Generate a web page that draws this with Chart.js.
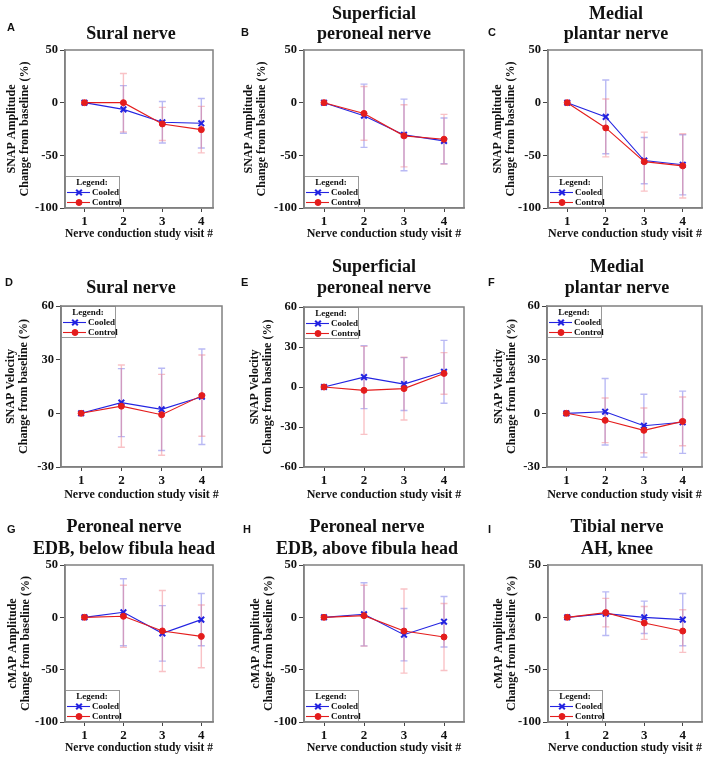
<!DOCTYPE html>
<html>
<head>
<meta charset="utf-8">
<title>Change from baseline by nerve</title>
<script src="https://cdn.jsdelivr.net/npm/chart.js@4.4.1/dist/chart.umd.min.js"></script>
<style>
  body { margin: 0; background: #fff; }
  #figure { position: relative; width: 708px; height: 767px; overflow: hidden; background: #fff; }
  #figure canvas { position: absolute; }
</style>
</head>
<body>
<div id="figure"></div>
<script>
// ---- data ----
const visits = [1, 2, 3, 4];
const seriesNames = ['Cooled', 'Control'];
const xTitle = 'Nerve conduction study visit #';

const panelLetters = ['A', 'B', 'C', 'D', 'E', 'F', 'G', 'H', 'I'];
const panelTitles = [
    ['Sural nerve'], ['Superficial', 'peroneal nerve'], ['Medial', 'plantar nerve'],
    ['Sural nerve'], ['Superficial', 'peroneal nerve'], ['Medial', 'plantar nerve'],
    ['Peroneal nerve', 'EDB, below fibula head'], ['Peroneal nerve', 'EDB, above fibula head'], ['Tibial nerve', 'AH, knee']
];
const ampTitle = ['SNAP Amplitude', 'Change from baseline (%)'];
const velTitle = ['SNAP Velocity', 'Change from baseline (%)'];
const cmapTitle = ['cMAP Amplitude', 'Change from baseline (%)'];
const yTitles = [ampTitle, ampTitle, ampTitle, velTitle, velTitle, velTitle, cmapTitle, cmapTitle, cmapTitle];

const amplitudeTicks = [50, 0, -50, -100];
const velocityTicks = [60, 30, 0, -30];
const velocityTicksWide = [60, 30, 0, -30, -60];
const panelTicks = [amplitudeTicks, amplitudeTicks, amplitudeTicks,
    velocityTicks, velocityTicksWide, velocityTicks,
    amplitudeTicks, amplitudeTicks, amplitudeTicks];

// mean change from baseline (%) per panel, visits 1-4
const cooledMean = [
    [0, -6.4, -18.6, -19.6],
    [0, -12.4, -30.6, -36.3],
    [0, -13.5, -55, -59],
    [0, 6, 2.2, 9.3],
    [0, 7.4, 2.2, 11.4],
    [0, 0.9, -6.9, -5],
    [0, 4.8, -15.3, -2.2],
    [0, 2.9, -16.6, -4.2],
    [0, 3.5, 0, -2.2]
];
const cooledSD = [
    [0, 22.6, 19.7, 23.5],
    [0, 30, 34, 21.7],
    [0, 35, 22, 28.5],
    [0, 19, 23, 26.7],
    [0, 23.6, 19.8, 23.6],
    [0, 18.6, 17.6, 17.4],
    [0, 32, 26.5, 25],
    [0, 30.2, 25, 24.1],
    [0, 20.8, 15.5, 24.9]
];
const controlMean = [
    [0, 0, -20.2, -25.6],
    [0, -10.2, -31.5, -34.7],
    [0, -24, -56, -60],
    [0, 4, -0.8, 9.9],
    [0, -2.5, -1.2, 10.2],
    [0, -3.9, -9.5, -4.5],
    [0, 1, -13, -18.2],
    [0, 1.6, -13.1, -18.8],
    [0, 4.5, -5.4, -13.1]
];
const controlSD = [
    [0, 27.7, 15.7, 22.1],
    [0, 25.5, 29.5, 23.6],
    [0, 27.5, 28, 30.5],
    [0, 23, 22.6, 22.7],
    [0, 33, 23.6, 15.6],
    [0, 12.5, 12.5, 13.6],
    [0, 29.7, 38.7, 30],
    [0, 29.1, 40.2, 32],
    [0, 13.6, 15.7, 20.4]
];

// ---- page layout (pixels in the 708x767 figure) ----
const panelLayout = [
    { cell: [0, 0, 236, 250],     plot: [65, 50, 213, 208],   xRange: [0.5, 4.3], yTitleX: 12,  titleX: 131, titleY: [34],       letter: [7, 28],    xTitleY: 234, legend: 'bottom' },
    { cell: [236, 0, 234, 250],   plot: [304, 50, 464, 208],  xRange: [0.5, 4.5], yTitleX: 249, titleX: 374, titleY: [14, 34],   letter: [241, 33],  xTitleY: 234, legend: 'bottom' },
    { cell: [470, 0, 238, 250],   plot: [548, 50, 707, 208],  xRange: [0.5, 4.5], yTitleX: 498, titleX: 616, titleY: [14, 34],   letter: [488, 33],  xTitleY: 234, legend: 'bottom' },
    { cell: [0, 250, 236, 255],   plot: [61, 306, 222, 467],  xRange: [0.5, 4.5], yTitleX: 11,  titleX: 131, titleY: [288],      letter: [5, 283],   xTitleY: 495, legend: 'top' },
    { cell: [236, 250, 234, 255], plot: [304, 307, 464, 467], xRange: [0.5, 4.5], yTitleX: 255, titleX: 374, titleY: [267, 288], letter: [241, 283], xTitleY: 495, legend: 'top' },
    { cell: [470, 250, 238, 255], plot: [547, 306, 707, 467], xRange: [0.5, 4.5], yTitleX: 499, titleX: 617, titleY: [267, 288], letter: [488, 283], xTitleY: 495, legend: 'top' },
    { cell: [0, 505, 236, 262],   plot: [65, 565, 213, 722],  xRange: [0.5, 4.3], yTitleX: 13,  titleX: 124, titleY: [527, 549], letter: [7, 530],   xTitleY: 748, legend: 'bottom' },
    { cell: [236, 505, 234, 262], plot: [304, 565, 464, 722], xRange: [0.5, 4.5], yTitleX: 256, titleX: 367, titleY: [527, 549], letter: [243, 530], xTitleY: 748, legend: 'bottom' },
    { cell: [470, 505, 238, 262], plot: [548, 565, 707, 722], xRange: [0.5, 4.5], yTitleX: 499, titleX: 617, titleY: [527, 549], letter: [488, 530], xTitleY: 748, legend: 'bottom' }
];

const SERIF = '"Liberation Serif", "Times New Roman", serif';
const SANS = '"Liberation Sans", Arial, sans-serif';
const COOLED = 'rgb(35, 35, 225)';
const CONTROL = 'rgb(228, 28, 28)';
const COOLED_ERR = 'rgba(100, 100, 230, 0.45)';
const CONTROL_ERR = 'rgba(240, 110, 120, 0.42)';
const FRAME = '#808080';

// error bars, in-plot legend, frame, panel title and letter
function makeDecor(p, k) {
    const [cx, cy] = p.cell;
    return {
        id: 'panelDecor' + k,
        beforeDatasetsDraw(chart) {
            const { ctx, scales: { x, y } } = chart;
            ctx.save();
            ctx.lineWidth = 1.4;
            chart.data.datasets.forEach(ds => {
                ctx.strokeStyle = ds.errorColor;
                ds.data.forEach((pt, i) => {
                    const e = ds.errors[i];
                    if (!e) return;
                    const px = x.getPixelForValue(pt.x);
                    const top = y.getPixelForValue(pt.y + e);
                    const bot = y.getPixelForValue(pt.y - e);
                    ctx.beginPath();
                    ctx.moveTo(px, top); ctx.lineTo(px, bot);
                    ctx.moveTo(px - 3.5, top); ctx.lineTo(px + 3.5, top);
                    ctx.moveTo(px - 3.5, bot); ctx.lineTo(px + 3.5, bot);
                    ctx.stroke();
                });
            });
            ctx.restore();
        },
        afterDatasetsDraw(chart) {
            const { ctx, chartArea: a } = chart;
            const w = 55, h = 32;
            const bx = a.left;
            const by = p.legend === 'top' ? a.top : a.bottom - h;
            ctx.save();
            ctx.fillStyle = '#fff';
            ctx.fillRect(bx, by, w, h);
            ctx.strokeStyle = '#999';
            ctx.lineWidth = 1;
            ctx.strokeRect(bx + 0.5, by + 0.5, w - 1, h - 1);
            ctx.font = 'bold 9px ' + SERIF;
            ctx.fillStyle = '#111';
            ctx.textBaseline = 'middle';
            ctx.textAlign = 'center';
            ctx.fillText('Legend:', bx + 27, by + 7);
            ctx.textAlign = 'left';
            chart.data.datasets.forEach((ds, i) => {
                const ly = by + 16.5 + i * 10;
                ctx.strokeStyle = ds.borderColor;
                ctx.fillStyle = ds.backgroundColor;
                ctx.lineWidth = 1.1;
                ctx.beginPath();
                ctx.moveTo(bx + 2, ly); ctx.lineTo(bx + 25, ly);
                ctx.stroke();
                ctx.lineWidth = ds.pointBorderWidth;
                Chart.helpers.drawPoint(ctx, { pointStyle: ds.pointStyle, radius: ds.pointRadius, borderWidth: ds.pointBorderWidth, rotation: 0 }, bx + 14, ly);
                ctx.fillStyle = '#111';
                ctx.fillText(ds.label, bx + 27, ly + 0.5);
            });
            ctx.restore();
        },
        afterDraw(chart) {
            const { ctx, chartArea: a } = chart;
            ctx.save();
            ctx.strokeStyle = FRAME;
            ctx.lineWidth = 1.5;
            ctx.strokeRect(a.left, a.top, a.right - a.left, a.bottom - a.top);

            ctx.fillStyle = '#111';
            ctx.textBaseline = 'middle';
            ctx.textAlign = 'center';
            ctx.font = 'bold 18px ' + SERIF;
            panelTitles[k].forEach((line, i) => {
                ctx.fillText(line, p.titleX - cx, p.titleY[i] - cy);
            });
            ctx.textAlign = 'left';
            ctx.font = 'bold 11px ' + SANS;
            ctx.fillText(panelLetters[k], p.letter[0] - cx, p.letter[1] - cy);
            ctx.restore();
        }
    };
}

const fig = document.getElementById('figure');

panelLayout.forEach((p, k) => {
    const [cx, cy, cw, ch] = p.cell;
    const [pl, pt, pr, pb] = p.plot;
    const canvas = document.createElement('canvas');
    canvas.width = cw;
    canvas.height = ch;
    canvas.style.left = cx + 'px';
    canvas.style.top = cy + 'px';
    fig.appendChild(canvas);

    const titleLine = 13.2;           // 12px * 1.1
    const padLeft = p.yTitleX - cx - 2 - titleLine / 2;
    const xTitlePad = (cy + ch) - p.xTitleY - titleLine / 2;
    const ticks = panelTicks[k];

    new Chart(canvas, {
        type: 'line',
        data: {
            datasets: [
                {
                    label: seriesNames[0],
                    data: visits.map((v, i) => ({ x: v, y: cooledMean[k][i] })),
                    errors: cooledSD[k],
                    errorColor: COOLED_ERR,
                    borderColor: COOLED,
                    backgroundColor: COOLED,
                    borderWidth: 1.1,
                    pointStyle: 'crossRot',
                    pointRadius: 4,
                    pointBorderWidth: 2,
                    order: 1
                },
                {
                    label: seriesNames[1],
                    data: visits.map((v, i) => ({ x: v, y: controlMean[k][i] })),
                    errors: controlSD[k],
                    errorColor: CONTROL_ERR,
                    borderColor: CONTROL,
                    backgroundColor: CONTROL,
                    borderWidth: 1.1,
                    pointStyle: 'circle',
                    pointRadius: 3,
                    pointBorderWidth: 1,
                    order: 0
                }
            ]
        },
        options: {
            responsive: false,
            animation: false,
            devicePixelRatio: 1,
            layout: { padding: { left: padLeft, top: pt - cy, right: cx + cw - pr, bottom: 0 } },
            plugins: {
                legend: { display: false },
                title: { display: false },
                tooltip: { enabled: false }
            },
            scales: {
                x: {
                    type: 'linear',
                    min: p.xRange[0],
                    max: p.xRange[1],
                    afterBuildTicks: s => { s.ticks = visits.map(v => ({ value: v })); },
                    afterFit: s => { s.height = cy + ch - pb; },
                    grid: { drawOnChartArea: false, drawTicks: true, tickLength: 4, color: '#444' },
                    border: { display: true, color: FRAME, width: 1.5 },
                    ticks: { font: { family: SERIF, size: 13, weight: 'bold' }, color: '#111', padding: 2, maxRotation: 0 },
                    title: {
                        display: true, text: xTitle, color: '#111',
                        font: { family: SERIF, size: 12, weight: 'bold', lineHeight: 1.1 },
                        padding: { top: 0, bottom: xTitlePad }
                    }
                },
                y: {
                    min: Math.min(...ticks),
                    max: Math.max(...ticks),
                    afterBuildTicks: s => { s.ticks = ticks.map(v => ({ value: v })); },
                    afterFit: s => { s.width = pl - cx - padLeft; },
                    grid: { drawOnChartArea: false, drawTicks: true, tickLength: 5, color: '#444' },
                    border: { display: true, color: FRAME, width: 1.5 },
                    ticks: { font: { family: SERIF, size: 12.5, weight: 'bold' }, color: '#111', padding: 2 },
                    title: {
                        display: true, text: yTitles[k], color: '#111',
                        font: { family: SERIF, size: 12, weight: 'bold', lineHeight: 1.1 },
                        padding: { top: 2, bottom: 0 }
                    }
                }
            }
        },
        plugins: [makeDecor(p, k)]
    });
});
</script>
</body>
</html>
